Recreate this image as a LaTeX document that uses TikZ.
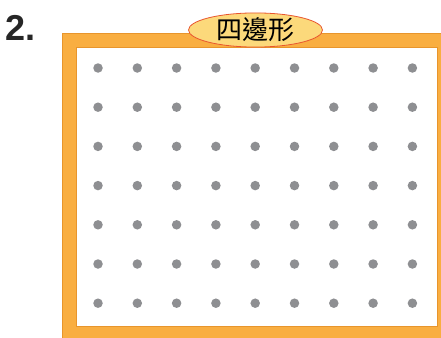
\documentclass[tikz,border=0pt]{standalone}
\usepackage{fontspec}
\usetikzlibrary{shapes.geometric}
\setmainfont{Liberation Sans}
\newfontfamily\cjk{Noto Sans CJK TC}
\definecolor{frameorange}{HTML}{F9AE41}
\definecolor{frameedge}{HTML}{E8952C}
\definecolor{dotgray}{HTML}{8E8F92}
\definecolor{labelfill}{HTML}{FCD97B}
\definecolor{labeledge}{HTML}{E8552F}
\begin{document}
\begin{tikzpicture}[x=1pt,y=-1pt,
  gdot/.style={circle,fill=dotgray,inner sep=0pt,minimum size=9.5pt},
  labelbox/.style={ellipse,fill=labelfill,draw=labeledge,line width=0.8pt,minimum width=134pt,minimum height=34pt,inner sep=0pt}]
\useasboundingbox (0,0) rectangle (441,337);
\clip (0,0) rectangle (441,337);
\fill[frameorange,draw=frameedge,line width=0.6pt] (62,33) rectangle (450,350);
\fill[white,draw=frameedge,line width=0.6pt] (76,47) rectangle (437,326);
\foreach \i in {0,...,8}{
  \foreach \j in {0,...,6}{
    \node[gdot] (d\i\j) at ({98+39.3*\i},{68+39.2*\j}) {};
  }
}
\node[labelbox] (lbl) at (255.5,30) {\cjk\fontsize{26pt}{26pt}\selectfont 四邊形};
\node[font=\bfseries\fontsize{36pt}{36pt}\selectfont,text=black!85,anchor=west,inner sep=0pt] (num) at (5,28) {2.};
\end{tikzpicture}
\end{document}
